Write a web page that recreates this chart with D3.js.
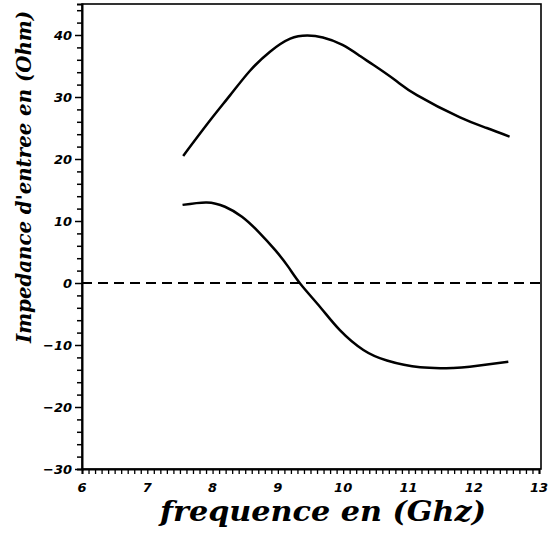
<!DOCTYPE html>
<html><head><meta charset="utf-8">
<script src="https://cdn.jsdelivr.net/npm/d3@7"></script>
<style>body{margin:0;background:#fff;} svg{display:block;}</style>
</head><body>
<svg id="c" width="549" height="534"></svg>
<script>
const upperX = [7.55, 7.96, 8.27, 8.57, 8.88, 9.19, 9.45, 9.69, 9.99, 10.26, 10.46, 10.8, 11.13, 11.79, 12.2, 12.55];
const upperY = [20.5, 26.2, 30.3, 34.2, 37.3, 39.4, 39.9, 39.6, 38.4, 36.6, 35.2, 32.7, 30.3, 26.7, 25.0, 23.6];
const lowerX = [7.54, 7.91, 8.19, 8.45, 8.70, 8.96, 9.16, 9.35, 9.65, 9.95, 10.31, 10.67, 11.18, 11.68, 11.94, 12.53];
const lowerY = [12.6, 13.0, 12.3, 10.7, 8.3, 5.3, 2.6, -0.2, -3.9, -7.6, -10.8, -12.5, -13.6, -13.7, -13.5, -12.7];
const xTicks = [6, 7, 8, 9, 10, 11, 12, 13];
const yTicks = [-30, -20, -10, 0, 10, 20, 30, 40];
const xTitle = "frequence en (Ghz)";
const yTitle = "Impedance d'entree en (Ohm)";

const svg = d3.select("#c");
const x = d3.scaleLinear().domain([6, 13]).range([82, 539]);
const y = d3.scaleLinear().domain([-30, 45]).range([469, 4]);
const tickFont = "'DejaVu Sans', sans-serif";

// frame
svg.append("rect").attr("x", x(6)).attr("y", y(45)).attr("width", 541 - x(6)).attr("height", y(-30) - y(45))
  .attr("fill", "none").attr("stroke", "#000").attr("stroke-width", 1.6);

// x axis
const xMinor = d3.range(60, 131).map(d => d / 10);
const xAxis = d3.axisBottom(x).tickValues(xMinor).tickSize(5).tickFormat("");
const gx = svg.append("g").attr("transform", `translate(0,${y(-30)})`).call(xAxis);
gx.select(".domain").attr("stroke-width", 2);
gx.selectAll(".tick line").attr("stroke-width", 1.3);
svg.append("g").selectAll("text").data(xTicks).join("text")
  .attr("x", d => x(d)).attr("y", 492).attr("text-anchor", "middle")
  .attr("font-family", tickFont).attr("font-weight", "bold").attr("font-style", "italic")
  .attr("font-size", 13).text(d => d);

// y axis
const yMinor = d3.range(-30, 45, 2);
const gy = svg.append("g").attr("transform", `translate(${x(6)},0)`)
  .call(d3.axisLeft(y).tickValues(yMinor).tickSize(5).tickFormat(""));
gy.select(".domain").attr("stroke-width", 2);
gy.selectAll(".tick line").attr("stroke-width", 1.5)
  .attr("x2", d => yTicks.includes(d) ? -7 : -5);
svg.append("g").selectAll("text").data(yTicks).join("text")
  .attr("x", 72).attr("y", d => y(d)).attr("dy", "0.36em").attr("text-anchor", "end")
  .attr("font-family", tickFont).attr("font-weight", "bold").attr("font-style", "italic")
  .attr("font-size", 13).text(d => d === 0 ? "0" : (d < 0 ? "\u2212" + (-d) : d));

// zero dashed line
svg.append("line").attr("x1", x(6)).attr("x2", 541).attr("y1", y(0)).attr("y2", y(0))
  .attr("stroke", "#000").attr("stroke-width", 2).attr("stroke-dasharray", "10,6");

// curves
const line = d3.line().x(d => x(d[0])).y(d => y(d[1])).curve(d3.curveNatural);
svg.append("path").datum(d3.zip(upperX, upperY)).attr("d", line)
  .attr("fill", "none").attr("stroke", "#000").attr("stroke-width", 2.5);
svg.append("path").datum(d3.zip(lowerX, lowerY)).attr("d", line)
  .attr("fill", "none").attr("stroke", "#000").attr("stroke-width", 2.5);

// titles
svg.append("text").attr("x", 323).attr("y", 521).attr("text-anchor", "middle")
  .attr("font-family", "'DejaVu Serif', serif").attr("font-weight", "bold").attr("font-style", "italic")
  .attr("font-size", 27).attr("textLength", 326).attr("lengthAdjust", "spacingAndGlyphs")
  .attr("xml:space", "preserve").text(xTitle);
svg.append("text").attr("transform", "translate(31,177) rotate(-90)").attr("text-anchor", "middle")
  .attr("font-family", "'DejaVu Serif', serif").attr("font-weight", "bold").attr("font-style", "italic")
  .attr("font-size", 20).attr("textLength", 332).attr("lengthAdjust", "spacingAndGlyphs")
  .text(yTitle);
</script>
</body></html>
